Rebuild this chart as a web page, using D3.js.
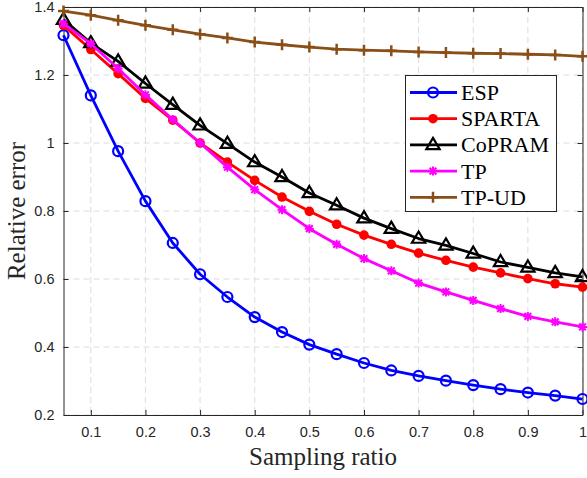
<!DOCTYPE html>
<html><head><meta charset="utf-8">
<script src="https://cdn.jsdelivr.net/npm/d3@7"></script>
<style>body{margin:0;background:#fff}svg{display:block}</style>
</head><body>
<script>
const ratios = [0.05,0.1,0.15,0.2,0.25,0.3,0.35,0.4,0.45,0.5,0.55,0.6,0.65,0.7,0.75,0.8,0.85,0.9,0.95,1.0];
const esp    = [1.317,1.140,0.976,0.829,0.706,0.614,0.547,0.488,0.444,0.407,0.379,0.353,0.331,0.315,0.301,0.288,0.276,0.266,0.257,0.247];
const sparta = [1.346,1.275,1.204,1.131,1.067,1.000,0.944,0.890,0.841,0.799,0.761,0.729,0.702,0.676,0.655,0.635,0.618,0.601,0.586,0.576];
const copram = [1.363,1.294,1.240,1.175,1.113,1.052,0.998,0.944,0.900,0.853,0.817,0.779,0.748,0.719,0.699,0.675,0.650,0.634,0.618,0.606];
const tp     = [1.351,1.292,1.219,1.142,1.069,1.000,0.929,0.863,0.804,0.748,0.702,0.660,0.624,0.588,0.562,0.537,0.513,0.490,0.474,0.459];
const tpud   = [1.388,1.376,1.361,1.346,1.333,1.320,1.309,1.297,1.289,1.282,1.276,1.273,1.271,1.268,1.266,1.264,1.263,1.261,1.259,1.255];
const seriesNames = ["ESP","SPARTA","CoPRAM","TP","TP-UD"];
const xTicks = [0.1,0.2,0.3,0.4,0.5,0.6,0.7,0.8,0.9,1];
const xTickLabels = ["0.1","0.2","0.3","0.4","0.5","0.6","0.7","0.8","0.9","1"];
const yTicks = [0.2,0.4,0.6,0.8,1.0,1.2,1.4];
const yTickLabels = ["0.2","0.4","0.6","0.8","1","1.2","1.4"];

const W=587,H=478;
const L=63.5,R=582.5,T=7,B=415;
const svg=d3.select("body").append("svg").attr("width",W).attr("height",H);
const x=d3.scaleLinear().domain([0.05,1]).range([L,R]);
const y=d3.scaleLinear().domain([0.2,1.4]).range([B,T]);
const axisCol="#262626";

// grid
const g=svg.append("g");
g.selectAll(".gx").data(xTicks).enter().append("line")
 .attr("x1",d=>x(d)).attr("x2",d=>x(d)).attr("y1",T).attr("y2",B)
 .attr("stroke","#dcdcdc").attr("stroke-dasharray","6,4").attr("stroke-width",1);
g.selectAll(".gy").data(yTicks).enter().append("line")
 .attr("y1",d=>y(d)).attr("y2",d=>y(d)).attr("x1",L).attr("x2",R)
 .attr("stroke","#dcdcdc").attr("stroke-dasharray","6,4").attr("stroke-width",1);

// axes via d3 axis
const fmtX=d=>xTickLabels[xTicks.indexOf(d)];
const fmtY=d=>yTickLabels[yTicks.findIndex(v=>Math.abs(v-d)<1e-9)];
const ax=svg.append("g").attr("transform",`translate(0,${B})`)
 .call(d3.axisBottom(x).tickValues(xTicks).tickFormat(fmtX).tickSizeInner(-5).tickSizeOuter(0).tickPadding(12));
const axT=svg.append("g").attr("transform",`translate(0,${T})`)
 .call(d3.axisTop(x).tickValues(xTicks).tickFormat("").tickSizeInner(-5).tickSizeOuter(0));
const ay=svg.append("g").attr("transform",`translate(${L},0)`)
 .call(d3.axisLeft(y).tickValues(yTicks).tickFormat(fmtY).tickSizeInner(-5).tickSizeOuter(0).tickPadding(9));
const ayR=svg.append("g").attr("transform",`translate(${R},0)`)
 .call(d3.axisRight(y).tickValues(yTicks).tickFormat("").tickSizeInner(-5).tickSizeOuter(0));
[ax,axT,ay,ayR].forEach(a=>{
  a.select(".domain").attr("stroke",axisCol).attr("stroke-width",1);
  a.selectAll(".tick line").attr("stroke",axisCol);
  a.selectAll("text").attr("fill","#262626").style("font-family","'Liberation Sans',Arial,sans-serif").style("font-size","14.5px");
});

// series
const colors=["#0000ff","#ff0000","#000000","#ff00ff","#8a4f17"];
const data=[esp,sparta,copram,tp,tpud];
const markers=["circle","dot","triangle","star","plus"];
const line=d3.line().x((d,i)=>x(ratios[i])).y(d=>y(d));

function drawMarker(sel,type,color,cx,cy){
  if(type==="circle") sel.append("circle").attr("cx",cx).attr("cy",cy).attr("r",5).attr("fill","none").attr("stroke",color).attr("stroke-width",2.2);
  else if(type==="dot") sel.append("circle").attr("cx",cx).attr("cy",cy).attr("r",4.8).attr("fill",color);
  else if(type==="triangle"){const s=7;sel.append("path").attr("d",`M${cx},${cy-s}L${cx+s*0.95},${cy+s*0.6}L${cx-s*0.95},${cy+s*0.6}Z`).attr("fill","none").attr("stroke",color).attr("stroke-width",2.2);}
  else if(type==="star"){const s=4.5;sel.append("path").attr("d",`M${cx-s},${cy}H${cx+s}M${cx},${cy-s}V${cy+s}M${cx-s*0.75},${cy-s*0.75}L${cx+s*0.75},${cy+s*0.75}M${cx-s*0.75},${cy+s*0.75}L${cx+s*0.75},${cy-s*0.75}`).attr("stroke",color).attr("stroke-width",2).attr("fill","none");}
  else if(type==="plus"){const s=5.5;sel.append("path").attr("d",`M${cx-s},${cy}H${cx+s}M${cx},${cy-s}V${cy+s}`).attr("stroke",color).attr("stroke-width",2.5);}
}
data.forEach((vals,k)=>{
  const sg=svg.append("g");
  sg.append("path").datum(vals).attr("d",line).attr("fill","none").attr("stroke",colors[k]).attr("stroke-width",2.8).attr("stroke-linejoin","round");
  vals.forEach((v,i)=>drawMarker(sg,markers[k],colors[k],x(ratios[i]),y(v)));
});

// legend
const lg=svg.append("g");
lg.append("rect").attr("x",405.5).attr("y",75.5).attr("width",151).attr("height",136).attr("fill","#fff").attr("stroke",axisCol).attr("stroke-width",1);
seriesNames.forEach((n,k)=>{
  const yy=92.5+k*26.2;
  lg.append("line").attr("x1",410).attr("x2",457).attr("y1",yy).attr("y2",yy).attr("stroke",colors[k]).attr("stroke-width",2.8);
  drawMarker(lg,markers[k],colors[k],433,yy);
  lg.append("text").attr("x",461).attr("y",yy+7.5).text(n).attr("fill","#000")
    .style("font-family","'Liberation Serif','Times New Roman',serif").style("font-size","22px");
});

// labels
svg.append("text").attr("x",(L+R)/2).attr("y",465).attr("text-anchor","middle").text("Sampling ratio")
 .attr("fill","#262626").style("font-family","'Liberation Serif','Times New Roman',serif").style("font-size","25px");
svg.append("text").attr("transform",`translate(25,${(T+B)/2}) rotate(-90)`).attr("text-anchor","middle").text("Relative error")
 .attr("fill","#262626").style("font-family","'Liberation Serif','Times New Roman',serif").style("font-size","25px");
</script>
</body></html>
